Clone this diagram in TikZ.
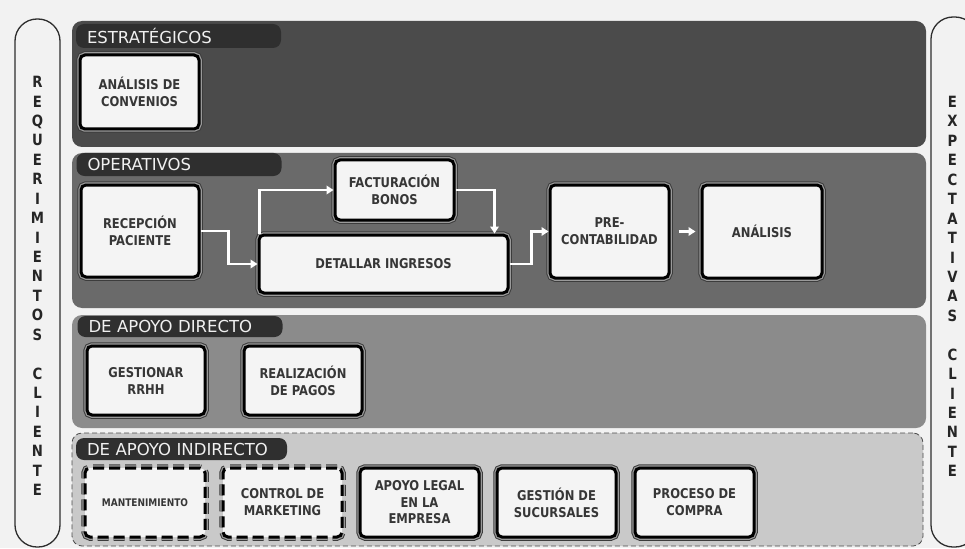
\documentclass[tikz,border=0pt]{standalone}
\usepackage{fontspec}
\setmainfont{DejaVu Sans Condensed}[FakeStretch=0.95]
\newfontfamily\hdrfont{DejaVu Sans}
\usetikzlibrary{arrows.meta}

\definecolor{pagebg}{HTML}{F2F2F2}
\definecolor{pillline}{HTML}{2E2E2E}
\definecolor{bandA}{HTML}{4B4B4B}
\definecolor{bandB}{HTML}{6A6A6A}
\definecolor{bandC}{HTML}{8B8B8B}
\definecolor{bandD}{HTML}{C9C9C9}
\definecolor{tabcol}{HTML}{2F2F2F}
\definecolor{boxfill}{HTML}{F4F4F4}
\definecolor{boxtext}{HTML}{363636}
\definecolor{ringdark}{HTML}{3C3C3C}
\definecolor{ringmid}{HTML}{9A9A9A}

\tikzset{
  pill/.style={draw=pillline, line width=1.3pt, fill=pagebg, rounded corners=22pt},
  sidetext/.style={font=\bfseries\fontsize{15.5}{19.43}\selectfont, text=black!85, align=center, inner sep=0pt},
  band/.style={rounded corners=10pt, inner sep=0pt, minimum width=854pt},
  tab/.style={fill=tabcol, rounded corners=8pt, text=white!94!black,
    font=\hdrfont\fontsize{16.5}{18}\selectfont, align=left, inner xsep=11pt, inner ysep=0pt,
    text width=183pt, anchor=center},
  procbox/.style={draw=black, line width=3pt, fill=boxfill, rounded corners=5pt,
    preaction={draw=ringdark, line width=7.5pt},
    preaction={draw=ringmid, line width=5.5pt},
    font=\bfseries\fontsize{13.5}{17}\selectfont, text=boxtext, align=center,
    inner sep=0pt, minimum width=119pt},
  dashbox/.style={draw=black, line width=3pt, fill=boxfill, rounded corners=5pt,
    dash pattern=on 11pt off 5pt,
    preaction={draw=ringdark, line width=7.5pt, dash pattern=on 11pt off 5pt},
    preaction={draw=ringmid, line width=5.5pt, dash pattern=on 11pt off 5pt},
    font=\bfseries\fontsize{13.5}{17}\selectfont, text=boxtext, align=center,
    inner sep=0pt, minimum width=119pt},
  flow/.style={draw=white, line width=2.6pt, -{Triangle[length=7pt,width=8.5pt]}},
}

\begin{document}
\begin{tikzpicture}[x=1pt, y=-1pt]
  % page
  \fill[pagebg] (0,0) rectangle (965,548);
  \useasboundingbox (0,0) rectangle (965,548);

  % customer columns on both sides
  \draw[pill] (15,19) rectangle (60,547);
  \draw[pill] (931,17) rectangle (977,547);
  \node[sidetext] (req) at (37.5,286) {R\\E\\Q\\U\\E\\R\\I\\M\\I\\E\\N\\T\\O\\S\\~\\C\\L\\I\\E\\N\\T\\E};
  \node[sidetext] (exp) at (952.5,286.5) {E\\X\\P\\E\\C\\T\\A\\T\\I\\V\\A\\S\\~\\C\\L\\I\\E\\N\\T\\E};

  % process bands
  \node[band, fill=bandA, minimum height=126pt] (estr) at (499,84) {};
  \node[band, fill=bandB, minimum height=155pt] (oper) at (499,230.5) {};
  \node[band, fill=bandC, minimum height=113pt] (dir) at (499,371.5) {};
  \node[band, fill=bandD, draw=black!70, line width=0.8pt, dash pattern=on 5pt off 3pt,
        minimum width=851pt, minimum height=113pt] (ind) at (497.5,489.5) {};

  % band headers
  \node[tab, minimum height=24pt] (tabA) at (178.5,36) {ESTRATÉGICOS};
  \node[tab, minimum height=23pt] (tabB) at (179,164.5) {OPERATIVOS};
  \node[tab, minimum height=21pt] (tabC) at (180,326.5) {DE APOYO DIRECTO};
  \node[tab, minimum height=22pt, text width=189pt] (tabD) at (181.5,449) {DE APOYO INDIRECTO};

  % strategic
  \node[procbox, minimum height=74pt] (conv) at (139.5,92) {ANÁLISIS DE\\CONVENIOS};

  % operative
  \node[procbox, minimum width=118pt, minimum height=92pt] (recep) at (140,231) {RECEPCIÓN\\PACIENTE};
  \node[procbox, minimum height=60pt] (fact) at (394.5,190) {FACTURACIÓN\\BONOS};
  \node[procbox, minimum width=249pt, minimum height=58pt] (det) at (383.5,264) {DETALLAR INGRESOS};
  \node[procbox, minimum height=93pt] (pre) at (609.5,231.5) {PRE-\\CONTABILIDAD};
  \node[procbox, minimum width=120pt, minimum height=93pt] (anal) at (762,231.5) {ANÁLISIS};

  % direct support
  \node[procbox, minimum width=118pt, minimum height=69pt] (rrhh) at (146,380.5) {GESTIONAR\\RRHH};
  \node[procbox, minimum width=118pt, minimum height=69pt] (pagos) at (303,380.5) {REALIZACIÓN\\DE PAGOS};

  % indirect support
  \node[dashbox, minimum width=120pt, minimum height=69pt, font=\bfseries\fontsize{10.5}{12}\selectfont] (mant) at (145,502.5) {MANTENIMIENTO};
  \node[dashbox, minimum height=69pt] (mkt) at (282.5,502.5) {CONTROL DE\\MARKETING};
  \node[procbox, minimum height=69pt, font=\bfseries\fontsize{13.5}{16.5}\selectfont] (legal) at (419.5,502.5) {APOYO LEGAL\\EN LA\\EMPRESA};
  \node[procbox, minimum height=69pt] (suc) at (556.5,502.5) {GESTIÓN DE\\SUCURSALES};
  \node[procbox, minimum height=69pt] (compra) at (694.5,502.5) {PROCESO DE\\COMPRA};

  % flow between operative processes
  \draw[flow] (recep.east) -- ++(28,0) |- (det.west);
  \draw[flow] ([xshift=2pt]det.north west) |- (fact.west);
  \draw[flow] (fact.east) -| ([xshift=-15pt]det.north east);
  \draw[flow] (det.east) -- ++(22,0) |- (pre.west);
  \draw[flow] ([xshift=8pt]pre.east) -- ([xshift=-5pt]anal.west);
\end{tikzpicture}
\end{document}
